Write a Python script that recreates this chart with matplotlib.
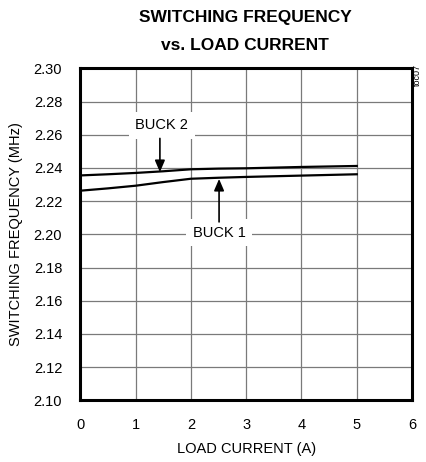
import matplotlib
matplotlib.use("Agg")
import matplotlib.pyplot as plt

plt.rcParams["font.family"] = ["Liberation Sans", "DejaVu Sans"]

# load current (A)
load_a = [0, 0.5, 1, 1.5, 2, 2.5, 3, 3.5, 4, 4.5, 5]
# switching frequency (MHz)
buck1 = [2.2263, 2.2277, 2.2293, 2.2315, 2.2335, 2.2341, 2.2346, 2.2350, 2.2354, 2.2358, 2.2362]
buck2 = [2.2355, 2.2362, 2.2370, 2.2380, 2.2392, 2.2396, 2.2398, 2.2402, 2.2406, 2.2409, 2.2412]

x_ticks = [0, 1, 2, 3, 4, 5, 6]
y_ticks = [2.10, 2.12, 2.14, 2.16, 2.18, 2.20, 2.22, 2.24, 2.26, 2.28, 2.30]

fig = plt.figure(figsize=(4.27, 4.62), dpi=100)
ax = fig.add_axes([0.188, 0.1335, 0.777, 0.7185])

ax.plot(load_a, buck1, color="black", lw=1.6, zorder=3)
ax.plot(load_a, buck2, color="black", lw=1.6, zorder=3)

ax.set_xlim(0, 6)
ax.set_ylim(2.10, 2.30)
ax.set_xticks(x_ticks)
ax.set_yticks(y_ticks)
ax.set_xticklabels([str(v) for v in x_ticks])
ax.set_yticklabels([f"{v:.2f}" for v in y_ticks])
ax.tick_params(length=0, labelsize=10.5, pad=13)
ax.grid(True, color="#7a7a7a", lw=0.9)
ax.set_axisbelow(True)
for s in ax.spines.values():
    s.set_linewidth(2.2)

ax.set_xlabel("LOAD CURRENT (A)", fontsize=10.5, labelpad=7)
ax.set_ylabel("SWITCHING FREQUENCY (MHz)", fontsize=10.5, labelpad=8)

fig.text(0.574, 0.978, "SWITCHING FREQUENCY\nvs. LOAD CURRENT", ha="center", va="top",
         fontsize=12.5, fontweight="bold", linespacing=2.05)
fig.text(0.977, 0.838, "toc07", rotation=90, ha="center", va="center", fontsize=6.5)

# labels with arrows
box = dict(boxstyle="square,pad=0.45", fc="white", ec="none")
ax.text(1.47, 2.2656, "BUCK 2", ha="center", va="center", fontsize=10.5, bbox=box, zorder=4)
ax.text(2.51, 2.2010, "BUCK 1", ha="center", va="center", fontsize=10.5, bbox=box, zorder=4)
arrow = dict(arrowstyle="-|>,head_length=0.7,head_width=0.3", color="black", lw=1.2,
             shrinkA=0, shrinkB=0)
ax.annotate("", xy=(1.44, 2.2375), xytext=(1.44, 2.2578), arrowprops=arrow, zorder=5)
ax.annotate("", xy=(2.51, 2.2334), xytext=(2.51, 2.2075), arrowprops=arrow, zorder=5)

fig.savefig("out.png", dpi=100)
